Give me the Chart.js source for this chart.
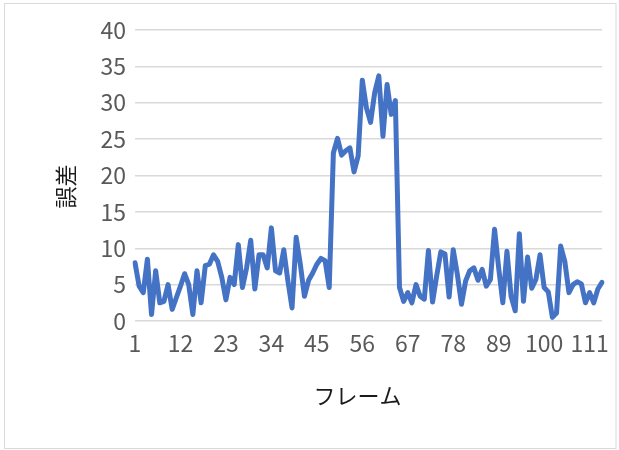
<!DOCTYPE html>
<html>
<head>
<meta charset="utf-8">
<script src="https://cdn.jsdelivr.net/npm/chart.js@4/dist/chart.umd.min.js"></script>
<style>
  html, body { margin: 0; padding: 0; background: #fff; }
  #wrap { position: relative; width: 619px; height: 450px; }
</style>
</head>
<body>
<div id="wrap"><canvas id="c" width="619" height="450"></canvas></div>
<script>
// Per-frame error values
const errors = [
  8.0, 4.8, 3.9, 8.5, 0.9, 6.9, 2.5, 2.7, 5.0, 1.6,
  3.2, 4.8, 6.5, 5.0, 0.9, 6.9, 2.5, 7.6, 7.8, 9.1,
  8.2, 6.0, 2.9, 6.0, 5.0, 10.5, 4.6, 7.3, 11.1, 4.4,
  9.1, 9.1, 7.3, 12.8, 6.9, 6.6, 9.8, 5.5, 1.8, 11.5,
  7.8, 3.4, 5.6, 6.6, 7.8, 8.6, 8.3, 4.6, 23.1, 25.1,
  22.8, 23.4, 23.8, 20.5, 22.7, 33.1, 29.3, 27.3, 31.4, 33.7,
  25.4, 32.5, 28.4, 30.3, 4.6, 2.7, 3.9, 2.5, 5.0, 3.4,
  3.0, 9.7, 2.6, 6.2, 9.5, 9.2, 3.3, 9.8, 6.4, 2.3,
  5.5, 6.9, 7.3, 5.6, 7.1, 4.8, 5.7, 12.6, 7.3, 2.5,
  9.6, 3.4, 1.4, 12.0, 2.7, 8.8, 4.5, 5.7, 9.1, 4.6,
  4.0, 0.5, 1.1, 10.3, 8.2, 3.9, 5.0, 5.4, 5.1, 2.5,
  3.9, 2.5, 4.4, 5.3
];
// Frame numbers 1..N
const frames = errors.map((_, i) => String(i + 1));
// Labels shown along the frame axis
const xTickLabels = ['1', '12', '23', '34', '45', '56', '67', '78', '89', '100', '111'];
// Error axis ticks
const yTicks = [0, 5, 10, 15, 20, 25, 30, 35, 40];

const FONT = "'Noto Sans CJK JP', 'Noto Sans', sans-serif";

// White background and thin frame around the whole chart
const chartFrame = {
  id: 'chartFrame',
  beforeDraw(chart) {
    const ctx = chart.ctx;
    ctx.save();
    ctx.fillStyle = '#ffffff';
    ctx.fillRect(0, 0, chart.width, chart.height);
    ctx.strokeStyle = '#d9d9d9';
    ctx.lineWidth = 1;
    ctx.strokeRect(4.5, 3.5, 611.5, 445);
    ctx.restore();
  }
};

new Chart(document.getElementById('c'), {
  type: 'line',
  data: {
    labels: frames,
    datasets: [{
      data: errors,
      borderColor: '#4472C4',
      borderWidth: 5,
      pointRadius: 0,
      tension: 0,
      fill: false,
      borderJoinStyle: 'round',
      borderCapStyle: 'round'
    }]
  },
  options: {
    responsive: false,
    animation: false,
    devicePixelRatio: 1,
    layout: { padding: { left: 52, top: 30, right: 17, bottom: 41 } },
    plugins: { legend: { display: false }, tooltip: { enabled: false } },
    scales: {
      x: {
        offset: false,
        grid: { display: false, drawTicks: false },
        border: { display: false },
        ticks: {
          autoSkip: false,
          maxRotation: 0,
          minRotation: 0,
          padding: 8,
          color: '#595959',
          font: { family: FONT, size: 23 },
          callback: (v, i) => xTickLabels.includes(frames[i]) ? frames[i] : ''
        },
        title: {
          display: true,
          text: 'フレーム\u3000',
          color: '#1a1a1a',
          font: { family: FONT, size: 22 },
          padding: { top: 0, bottom: 0 }
        },
        afterFit: s => { s.height = 88; }
      },
      y: {
        min: 0,
        max: 40,
        afterBuildTicks: s => { s.ticks = yTicks.map(v => ({ value: v })); },
        grid: { color: '#d9d9d9', lineWidth: 1.5, drawTicks: false },
        border: { display: false },
        ticks: {
          padding: 9,
          color: '#595959',
          font: { family: FONT, size: 23 }
        },
        title: {
          display: true,
          text: '誤差\u3000',
          color: '#1a1a1a',
          font: { family: FONT, size: 22 },
          padding: { top: 0, bottom: 0 }
        },
        afterFit: s => { s.width = 83; }
      }
    }
  },
  plugins: [chartFrame]
});
</script>
</body>
</html>
